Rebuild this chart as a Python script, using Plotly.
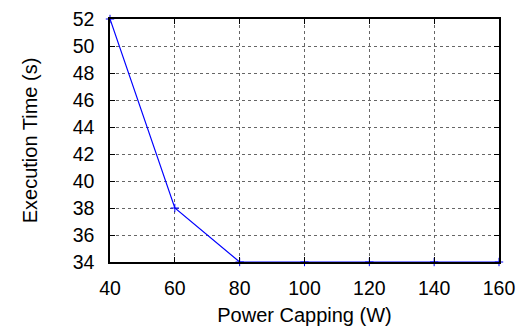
import plotly.graph_objects as go

power_w = [40, 60, 80, 100, 120, 140, 160]
exec_time_s = [52, 38, 34, 34, 34, 34, 34]
x_ticks = [40, 60, 80, 100, 120, 140, 160]
y_ticks = [34, 36, 38, 40, 42, 44, 46, 48, 50, 52]

FONT = "Liberation Sans, Arial, Helvetica, sans-serif"

fig = go.Figure()
fig.add_trace(go.Scatter(
    x=power_w, y=exec_time_s, mode="lines+markers",
    line=dict(color="#0000ff", width=1.2),
    marker=dict(symbol="cross-thin", size=6, line=dict(color="#0000ff", width=1)),
    showlegend=False, cliponaxis=False,
))

axis_common = dict(
    showline=True, linecolor="black", linewidth=1.5, mirror="ticks",
    ticks="inside", ticklen=5, tickcolor="black", tickwidth=1,
    showgrid=True, gridcolor="#666666", griddash="dot", gridwidth=1,
    zeroline=False, automargin=False, ticklabeloverflow="allow",
    tickfont=dict(family=FONT, size=19.5, color="black"),
)

fig.update_xaxes(range=[40, 160], tickvals=x_ticks, ticklabelstandoff=8,
                 title=dict(text="Power Capping (W)", standoff=10,
                            font=dict(family=FONT, size=20, color="black")),
                 **axis_common)
fig.update_yaxes(range=[34, 52], tickvals=y_ticks, ticklabelstandoff=10,
                 title=dict(text="Execution Time (s)", standoff=30,
                            font=dict(family=FONT, size=20, color="black")),
                 **axis_common)

fig.update_layout(
    width=519, height=335,
    margin=dict(l=110, r=20, t=19, b=73),
    plot_bgcolor="white", paper_bgcolor="white",
)

# remove the browser's default 8px body margin so the figure fills the window exactly
fig.write_html("out.html",
               config={"displayModeBar": False},
               post_script="document.body.style.margin='0';document.body.style.overflow='hidden';")
